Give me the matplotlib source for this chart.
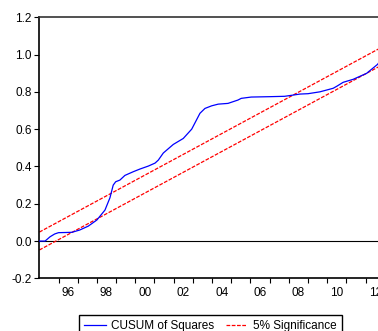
import matplotlib
matplotlib.use("Agg")
import matplotlib.pyplot as plt
from matplotlib.ticker import FixedLocator, NullFormatter, FixedFormatter

plt.rcParams['font.family'] = ['Liberation Sans', 'DejaVu Sans']

# CUSUM of squares path (decimal years)
years = [1995.00, 1995.30, 1995.56, 1995.80, 1996.00, 1996.40, 1996.70, 1997.10,
         1997.55, 1998.00, 1998.42, 1998.68, 1998.85, 1998.98, 1999.20, 1999.46,
         1999.90, 2000.24, 2000.68, 2001.03, 2001.20, 2001.46, 2001.98, 2002.50,
         2002.94, 2003.37, 2003.63, 2003.98, 2004.32, 2004.83, 2005.35, 2005.52,
         2006.04, 2007.00, 2007.78, 2008.58, 2009.00, 2009.62, 2010.31, 2010.50,
         2010.83, 2011.35, 2012.05, 2012.62, 2013.00]
cusum_sq = [0.000, 0.000, 0.023, 0.038, 0.045, 0.046, 0.047, 0.059,
            0.080, 0.113, 0.166, 0.232, 0.300, 0.318, 0.327, 0.352,
            0.372, 0.386, 0.402, 0.418, 0.434, 0.472, 0.518, 0.550,
            0.600, 0.685, 0.711, 0.725, 0.734, 0.738, 0.756, 0.765,
            0.772, 0.774, 0.776, 0.788, 0.790, 0.800, 0.819, 0.830,
            0.851, 0.867, 0.899, 0.947, 1.000]

# 5% significance bands around the expected path
band_years = [1995.0, 2013.0]
band_upper = [0.048, 1.048]
band_lower = [-0.048, 0.952]

year_ticks = list(range(1996, 2013))
label_years = [1996, 1998, 2000, 2002, 2004, 2006, 2008, 2010, 2012]
year_labels = ['96', '98', '00', '02', '04', '06', '08', '10', '12']

fig = plt.figure(figsize=(3.78, 3.31), dpi=100)
ax = fig.add_axes([0.104, 0.159, 0.914, 0.789])

ax.axhline(0.0, color='black', lw=0.8, zorder=1)
ax.plot(years, cusum_sq, color='#0000ff', lw=0.9, label='CUSUM of Squares', zorder=3)
ax.plot(band_years, band_upper, color='#ff0000', lw=0.9, dashes=(3, 1.2),
        label='5% Significance', zorder=2)
ax.plot(band_years, band_lower, color='#ff0000', lw=0.9, dashes=(3, 1.2), zorder=2)

ax.set_xlim(1995.0, 2013.0)
ax.set_ylim(-0.2, 1.2)
ax.set_yticks([-0.2, 0.0, 0.2, 0.4, 0.6, 0.8, 1.0, 1.2])
ax.set_yticklabels(['-0.2', '0.0', '0.2', '0.4', '0.6', '0.8', '1.0', '1.2'])

# year boundaries get tick marks, labels sit mid-year
ax.xaxis.set_major_locator(FixedLocator(year_ticks))
ax.xaxis.set_major_formatter(NullFormatter())
ax.xaxis.set_minor_locator(FixedLocator([y + 0.5 for y in label_years]))
ax.xaxis.set_minor_formatter(FixedFormatter(year_labels))
ax.tick_params(axis='x', which='major', direction='out', length=3.6, width=0.8)
ax.tick_params(axis='x', which='minor', length=0, pad=6.5, labelsize=8.5)
ax.tick_params(axis='y', direction='out', length=3.6, width=0.8, pad=1.8, labelsize=8.5)

for side in ['left', 'bottom', 'top', 'right']:
    ax.spines[side].set_linewidth(1.2)
    ax.spines[side].set_color('black')
ax.spines['top'].set_color('#333333')

fig.legend(loc='upper left', bbox_to_anchor=(79 / 378, 1 - 315 / 331), ncol=2,
           fontsize=8.5, frameon=True, fancybox=False, edgecolor='black',
           framealpha=1, handlelength=1.8, handletextpad=0.48, columnspacing=1.0,
           borderpad=0.45, borderaxespad=0)

fig.savefig('out.png', dpi=100)
